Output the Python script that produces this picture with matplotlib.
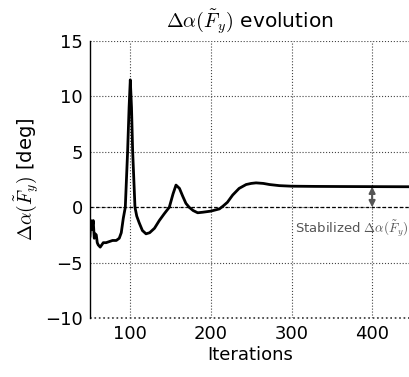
import matplotlib
matplotlib.use("Agg")
import matplotlib.pyplot as plt

plt.rcParams['mathtext.fontset'] = 'cm'
plt.rcParams['font.family'] = 'DejaVu Sans'

# curve
iterations = [50, 51, 52.5, 54, 55.3, 56.5, 57.8, 59, 60.2, 62.7, 66.5, 70, 74, 78,
              82.6, 86.3, 88.8, 91.3, 93.8, 96.7, 98.5, 100, 101.5, 102.9, 105.8,
              108, 111, 115, 119.5, 124, 130, 136, 142, 148.4, 153, 156.7, 161,
              165, 169, 173, 178, 183.6, 190, 200, 210.6, 215, 220.5, 227, 235,
              243.7, 250, 256, 265, 272.7, 285, 300, 330, 360, 400, 447]
delta_alpha = [-2.6, -1.2, -2.0, -1.2, -2.8, -2.4, -2.5, -3.2, -3.4, -3.6, -3.2, -3.2,
               -3.1, -3.0, -3.0, -2.8, -2.3, -1.0, 0.0, 5.1, 9.0, 11.5, 9.0, 5.1, 0.0,
               -0.8, -1.4, -2.1, -2.4, -2.3, -1.9, -1.2, -0.6, 0.0, 1.2, 2.0, 1.7,
               1.0, 0.35, 0.0, -0.3, -0.5, -0.45, -0.35, -0.15, 0.1, 0.45, 1.1, 1.7,
               2.05, 2.15, 2.2, 2.15, 2.05, 1.95, 1.9, 1.88, 1.87, 1.86, 1.85]
stabilized_at = 400
stabilized_value = 1.86

xticks = [100, 200, 300, 400]
yticks = [-10, -5, 0, 5, 10, 15]

fig = plt.figure(figsize=(4.10, 3.77), dpi=100)
ax = fig.add_axes([0.2195, 0.1565, 0.7805, 0.7345])

ax.plot(iterations, delta_alpha, color='black', lw=2)
ax.axhline(0, color='black', lw=0.9, ls=(0, (2.5, 2)))

ax.annotate('', xy=(stabilized_at, 0), xytext=(stabilized_at, stabilized_value),
            arrowprops=dict(arrowstyle='<|-|>', color='#555555', lw=1.5,
                            mutation_scale=9, shrinkA=0, shrinkB=0))
ax.text(0.995, 0.322, r'Stabilized $\Delta\alpha(\tilde{F}_y)$', color='#555555',
        fontsize=9.5, ha='right', va='center', transform=ax.transAxes)

ax.set_xlim(50, 447)
ax.set_ylim(-10, 15)
ax.set_xticks(xticks)
ax.set_yticks(yticks)
ax.grid(True, color='#444444', ls=':', lw=0.8)
ax.axhline(-10, color='#333333', ls=':', lw=1.2, clip_on=False)
ax.tick_params(length=0, labelsize=13, pad=5)
for s in ['top', 'right', 'bottom']:
    ax.spines[s].set_visible(False)
ax.spines['left'].set_linewidth(1.0)

ax.set_xlabel('Iterations', fontsize=13, labelpad=2)
ax.set_ylabel(r'$\Delta\alpha(\tilde{F}_y)$ [deg]', fontsize=14, labelpad=3)
ax.set_title(r'$\Delta\alpha(\tilde{F}_y)$ evolution', fontsize=14.5, pad=9)

fig.savefig('out.png', dpi=100)
